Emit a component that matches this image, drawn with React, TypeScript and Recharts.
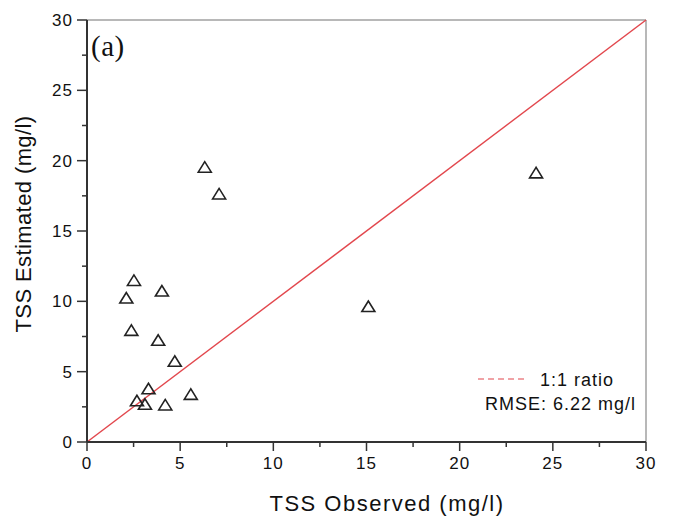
import React from 'react';
import { ScatterChart, Scatter, XAxis, YAxis, ReferenceLine, Customized } from 'recharts';

// observed vs estimated TSS (mg/l)
const observed = [6.32, 7.09, 24.1, 2.52, 2.11, 4.02, 2.38, 3.82, 4.71, 3.3, 2.68, 3.11, 4.2, 5.57, 15.1];
const estimated = [19.5, 17.6, 19.1, 11.45, 10.2, 10.7, 7.9, 7.2, 5.7, 3.75, 2.9, 2.65, 2.6, 3.35, 9.6];
const axisTicks = [0, 2.5, 5, 7.5, 10, 12.5, 15, 17.5, 20, 22.5, 25, 27.5, 30];
const rmseText = 'RMSE: 6.22 mg/l';
const ratioText = '1:1 ratio';

const RED = '#e2474d';
const FONT = '"Liberation Sans", Arial, sans-serif';

const XTick = (props: any) => {
  const { x, y, payload } = props;
  const major = payload.value % 5 === 0;
  return (
    <g>
      <line x1={x} x2={x} y1={y} y2={y + (major ? 9 : 5)} stroke="#333" strokeWidth={1.5} />
      {major && (
        <text x={x} y={y + 27} textAnchor="middle" fontSize={17} fontFamily={FONT} fill="#111" letterSpacing={1}>
          {payload.value}
        </text>
      )}
    </g>
  );
};

const YTick = (props: any) => {
  const { x, y, payload } = props;
  const major = payload.value % 5 === 0;
  return (
    <g>
      <line x1={x} x2={x - (major ? 10 : 5)} y1={y} y2={y} stroke="#333" strokeWidth={1.5} />
      {major && (
        <text x={x - 14} y={y + 6} textAnchor="end" fontSize={17} fontFamily={FONT} fill="#111" letterSpacing={1}>
          {payload.value}
        </text>
      )}
    </g>
  );
};

const Triangle = (props: any) => {
  const { cx, cy } = props;
  return (
    <polygon
      points={`${cx},${cy - 6} ${cx - 6.5},${cy + 4.5} ${cx + 6.5},${cy + 4.5}`}
      fill="none"
      stroke="#222"
      strokeWidth={1.6}
    />
  );
};

const Extras = () => (
  <g>
    <text x={91} y={56} fontSize={29} fontFamily='"Liberation Serif", "Times New Roman", serif' fill="#111" letterSpacing={0.5}>
      (a)
    </text>
    <text x={387} y={511} textAnchor="middle" fontSize={22} fontFamily={FONT} fill="#111" letterSpacing={1.5}>
      TSS Observed (mg/l)
    </text>
    <text
      x={23}
      y={224}
      transform="rotate(-90 23 224)"
      textAnchor="middle"
      dominantBaseline="central"
      fontSize={22}
      fontFamily={FONT}
      fill="#111"
      letterSpacing={0.4}
    >
      TSS Estimated (mg/l)
    </text>
    <line x1={478} x2={528} y1={379} y2={379} stroke={RED} strokeWidth={1.2} strokeDasharray="6 4" />
    <text x={540} y={386} fontSize={18} fontFamily={FONT} fill="#111" letterSpacing={1}>
      {ratioText}
    </text>
    <text x={485} y={410} fontSize={18} fontFamily={FONT} fill="#111" letterSpacing={1}>
      {rmseText}
    </text>
  </g>
);

export default function App() {
  const data = observed.map((x, i) => ({ x, y: estimated[i] }));

  return (
    <div style={{ position: 'absolute', left: 0, top: 0, width: 673, height: 520, background: '#fff' }}>
      <ScatterChart width={673} height={520} margin={{ top: 20, right: 27, left: 0, bottom: 0 }}>
        <XAxis
          type="number"
          dataKey="x"
          domain={[0, 30]}
          ticks={axisTicks}
          interval={0}
          height={78}
          tickSize={0}
          tickMargin={0}
          tick={<XTick />}
          axisLine={{ stroke: '#333', strokeWidth: 2 }}
          allowDataOverflow
        />
        <YAxis
          type="number"
          dataKey="y"
          domain={[0, 30]}
          ticks={axisTicks}
          interval={0}
          width={87}
          tickSize={0}
          tickMargin={0}
          tick={<YTick />}
          axisLine={{ stroke: '#333', strokeWidth: 2 }}
          allowDataOverflow
        />
        <ReferenceLine y={30} stroke="#b8b8b8" strokeWidth={2} />
        <ReferenceLine x={30} stroke="#b8b8b8" strokeWidth={2} />
        <ReferenceLine segment={[{ x: 0, y: 0 }, { x: 30, y: 30 }]} stroke={RED} strokeWidth={1.5} />
        <Scatter data={data} shape={<Triangle />} isAnimationActive={false} />
        <Customized component={Extras} />
      </ScatterChart>
    </div>
  );
}
